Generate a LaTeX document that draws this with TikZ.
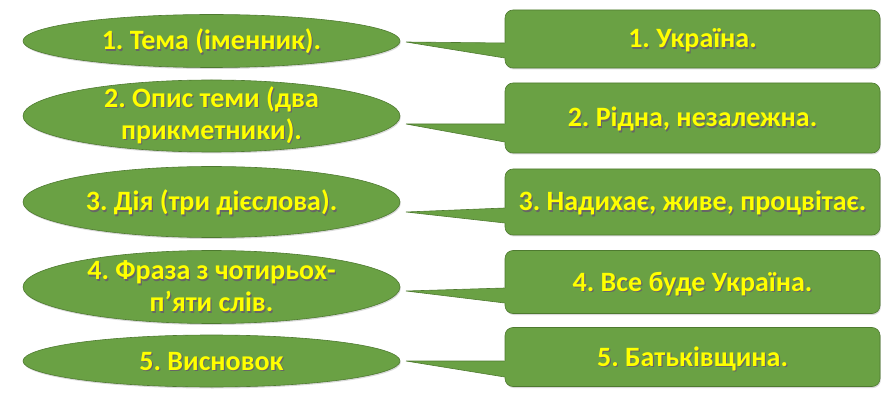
\documentclass[tikz,border=0pt]{standalone}
\usepackage{fontspec}
\setmainfont{Carlito}
\usetikzlibrary{shapes.geometric,shadows,calc}
\definecolor{leafgreen}{RGB}{106,161,68}
\definecolor{leafedge}{RGB}{78,122,48}
\definecolor{signyellow}{RGB}{255,255,0}
\newcommand\shtext[1]{\leavevmode\rlap{\kern1.2pt\raisebox{-1.4pt}{\textcolor{black!60}{#1}}}#1}
\tikzset{
  oval/.style={ellipse,draw=leafedge,fill=leafgreen,line width=0.6pt,inner sep=0pt,minimum width=377pt,
    drop shadow={shadow xshift=0.8pt,shadow yshift=-1.5pt,opacity=0.3}},
  answer/.style={rectangle,rounded corners=8pt,draw=leafedge,fill=leafgreen,line width=0.6pt,inner sep=0pt,minimum width=375pt,
    drop shadow={shadow xshift=0.8pt,shadow yshift=-1.5pt,opacity=0.3}},
  caption/.style={font=\fontsize{28}{32}\selectfont\bfseries\frenchspacing,text=signyellow,align=center},
  oneline/.style={text height=18pt,text depth=0pt},
  twoline/.style={},
  wedge/.style={fill=leafgreen},
  wedgeline/.style={draw=leafedge,line width=0.6pt}
}

\begin{document}
\begin{tikzpicture}[x=1pt,y=-1pt]
  \useasboundingbox (0,0) rectangle (896,403);

  % left column: what each line of the poem holds
  \foreach \i/\y/\h/\o/\t in {1/41/53/oneline/{\shtext{1. Тема (іменник).}},
                          2/116/72/twoline/{\shtext{2. Опис теми (два}\\\shtext{прикметники).}},
                          3/202/71/oneline/{\shtext{3. Дія (три дієслова).}},
                          4/287/73/twoline/{\shtext{4. Фраза з чотирьох-}\\\shtext{п’яти слів.}},
                          5/361/52/oneline/{\shtext{5. Висновок}}}{
    \node[oval,minimum height=\h pt] (el\i) at (211.5,\y) {};
    \node[caption,\o] (el\i-t) at (el\i) {\t};
  }

  % right column: the answers
  \foreach \i/\y/\h/\t in {1/39/58/{1. Україна.},
                          2/118/70/{2. Рідна, незалежна.},
                          3/202/66/{3. Надихає, живе, процвітає.},
                          4/282/63/{4. Все буде Україна.},
                          5/357/59/{5. Батьківщина.}}{
    \node[answer,caption,oneline,minimum height=\h pt] (bx\i) at (692.5,\y) {\shtext{\t}};
  }

  % callout pointers
  \foreach \i/\ty/\a/\b in {1/42/4/19, 2/124/6/24, 3/212/6/21, 4/291/6/21, 5/361/4/20}{
    \coordinate (tp\i) at (406,\ty);
    \fill[wedge] ($(bx\i.west)+(1.5,\a)$) -- ($(bx\i.west)+(0,\a)$) -- (tp\i)
      -- ($(bx\i.west)+(0,\b)$) -- ($(bx\i.west)+(1.5,\b)$) -- cycle;
    \draw[wedgeline] ($(bx\i.west)+(0,\a)$) -- (tp\i) -- ($(bx\i.west)+(0,\b)$);
  }
\end{tikzpicture}
\end{document}
